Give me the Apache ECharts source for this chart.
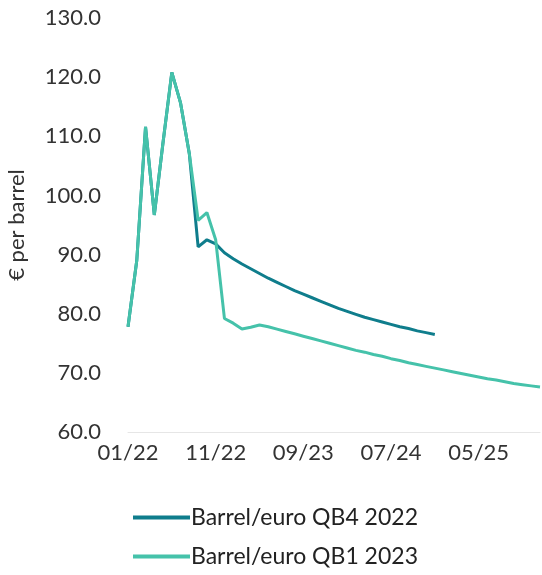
<!DOCTYPE html>
<html>
<head>
<meta charset="utf-8">
<script src="https://cdn.jsdelivr.net/npm/echarts@6/dist/echarts.min.js"></script>
<style>
html,body{margin:0;padding:0;background:#fff;}
#chart{width:542px;height:575px;}
</style>
</head>
<body>
<div id="chart"></div>
<script>
// Monthly categories 01/22 .. 12/25
var categories = [];
for (var y = 22; y <= 25; y++) {
  for (var m = 1; m <= 12; m++) {
    categories.push((m < 10 ? '0' + m : '' + m) + '/' + y);
  }
}
var seriesNames = ['Barrel/euro QB4 2022', 'Barrel/euro QB1 2023'];
var qb4_2022 = [77.8, 89.0, 111.6, 96.7, 109.0, 120.8, 115.6, 107.0, 91.3, 92.5,
  91.8, 90.3, 89.3, 88.4, 87.6, 86.8, 86.0, 85.3, 84.6, 83.9,
  83.3, 82.7, 82.1, 81.5, 80.9, 80.4, 79.9, 79.4, 79.0, 78.6,
  78.2, 77.8, 77.5, 77.1, 76.8, 76.5];
var qb1_2023 = [77.8, 89.0, 111.6, 96.7, 109.0, 120.8, 115.6, 107.0, 95.8, 97.1,
  92.5, 79.2, 78.4, 77.4, 77.7, 78.1, 77.8, 77.4, 77.0, 76.6,
  76.2, 75.8, 75.4, 75.0, 74.6, 74.2, 73.8, 73.5, 73.1, 72.8,
  72.4, 72.1, 71.7, 71.4, 71.1, 70.8, 70.5, 70.2, 69.9, 69.6,
  69.3, 69.0, 68.8, 68.5, 68.2, 68.0, 67.8, 67.6];
var yMin = 60, yMax = 130, yStep = 10;
var yAxisName = '€ per barrel';

var chart = echarts.init(document.getElementById('chart'), null, {renderer: 'canvas'});
var font = 'Lato, "Open Sans", sans-serif';
chart.setOption({
  animation: false,
  grid: {left: 128, right: 2, top: 18, bottom: 143, outerBoundsMode: 'none', containLabel: false},
  legend: {
    orient: 'vertical',
    left: 128,
    top: 501,
    height: 120,
    itemWidth: 57,
    itemHeight: 4,
    itemGap: 16,
    icon: 'rect',
    textStyle: {fontFamily: font, fontSize: 23, color: '#222', padding: [0, 0, 0, -4]},
    data: seriesNames
  },
  xAxis: {
    type: 'category',
    data: categories,
    boundaryGap: false,
    axisLine: {show: true, lineStyle: {color: '#e6e6e6', width: 1}},
    axisTick: {show: false},
    axisLabel: {interval: 9, fontFamily: font, fontSize: 22, color: '#333', margin: 10},
    splitLine: {show: false}
  },
  yAxis: {
    type: 'value',
    min: yMin, max: yMax, interval: yStep,
    name: yAxisName,
    nameLocation: 'middle',
    nameRotate: 90,
    nameGap: 100,
    nameTextStyle: {fontFamily: font, fontSize: 22, color: '#333', padding: [0, 0, 0, 0]},
    axisLine: {show: false},
    axisTick: {show: false},
    splitLine: {show: false},
    axisLabel: {fontFamily: font, fontSize: 22, color: '#333', margin: 27,
      formatter: function (v) { return v.toFixed(1); }}
  },
  series: [
    {name: seriesNames[0], type: 'line', data: qb4_2022, showSymbol: false, symbol: 'none',
      lineStyle: {width: 3, color: '#0f7d8c'}, itemStyle: {color: '#0f7d8c'}, z: 2},
    {name: seriesNames[1], type: 'line', data: qb1_2023, showSymbol: false, symbol: 'none',
      lineStyle: {width: 3, color: '#45c2aa'}, itemStyle: {color: '#45c2aa'}, z: 3}
  ]
});
</script>
</body>
</html>
